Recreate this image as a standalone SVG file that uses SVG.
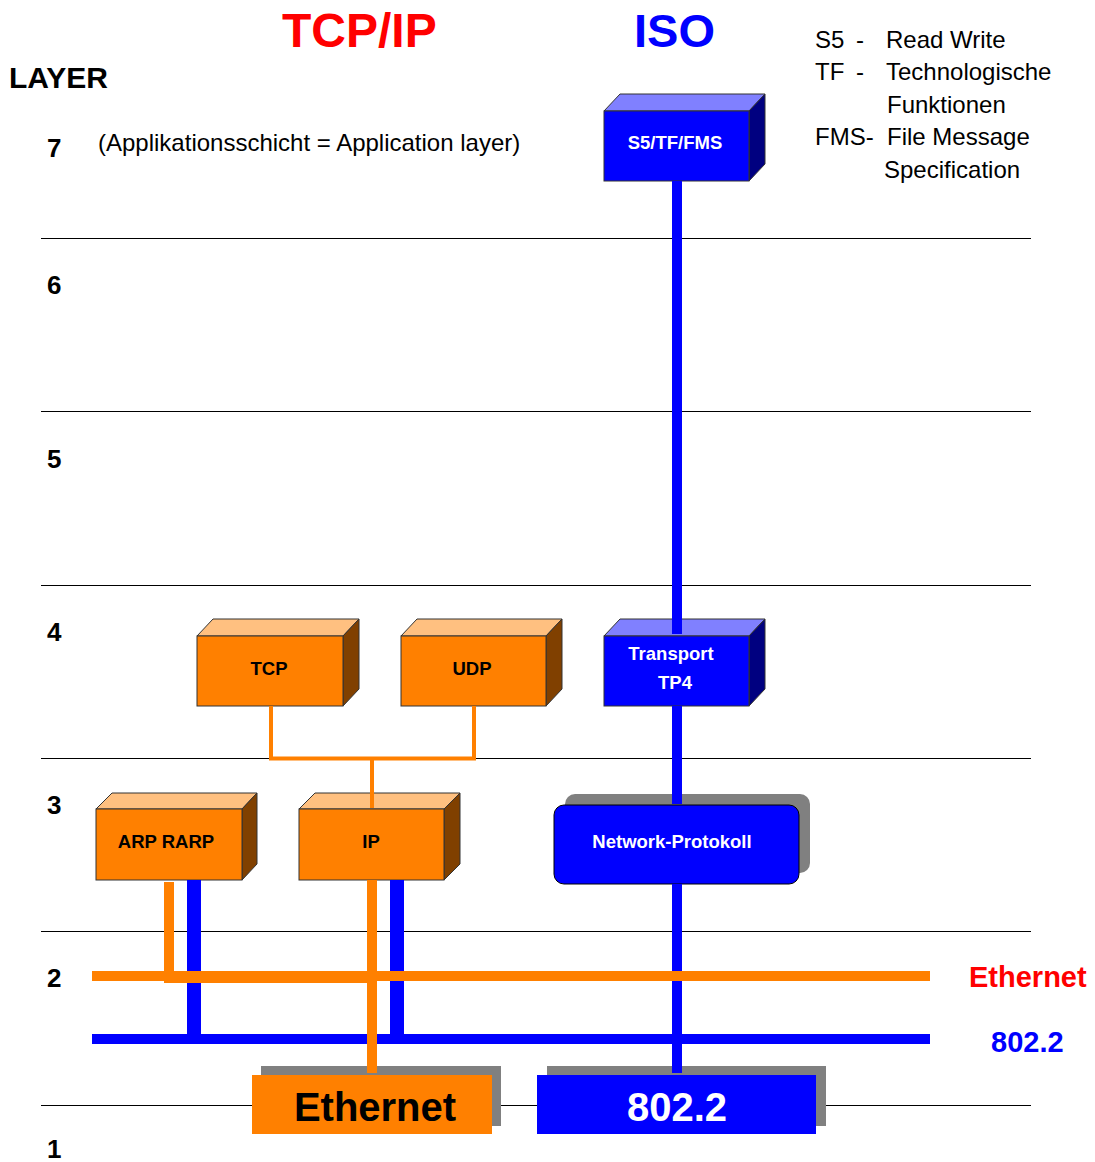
<svg xmlns="http://www.w3.org/2000/svg" width="1095" height="1162" viewBox="0 0 1095 1162">
<style>
text{font-family:"Liberation Sans",Arial,sans-serif}
.b{font-weight:bold}
.num{font-weight:bold;font-size:26px;fill:#000}
.leg{font-size:24px;fill:#000}
.lbl{font-weight:bold;font-size:18.5px;text-anchor:middle}
.of{fill:#FF8000;stroke:#333;stroke-width:1}
.ot{fill:#FFC080;stroke:#333;stroke-width:1}
.os{fill:#804000;stroke:#333;stroke-width:1}
.bf{fill:#0000FF;stroke:#333;stroke-width:1}
.bt{fill:#8080FF;stroke:#333;stroke-width:1}
.bs{fill:#000080;stroke:#333;stroke-width:1}
.grid{stroke:#000;stroke-width:1}
.shadow{fill:#808080}
</style>
<rect width="1095" height="1162" fill="#fff"/>
<g id="grid">
<line class="grid" x1="41" y1="238.5" x2="1031" y2="238.5"/>
<line class="grid" x1="41" y1="411.5" x2="1031" y2="411.5"/>
<line class="grid" x1="41" y1="585.5" x2="1031" y2="585.5"/>
<line class="grid" x1="41" y1="758.5" x2="1031" y2="758.5"/>
<line class="grid" x1="41" y1="931.5" x2="1031" y2="931.5"/>
<line class="grid" x1="41" y1="1105.5" x2="1031" y2="1105.5"/>
</g>
<g id="titles">
<text x="282" y="47" class="b" font-size="48" fill="#FF0000">TCP/IP</text>
<text x="634" y="47" class="b" font-size="47" fill="#0000FF">ISO</text>
<text x="9" y="88" class="b" font-size="30" fill="#000">LAYER</text>
<text x="47" y="157" class="num">7</text>
<text x="47" y="294" class="num">6</text>
<text x="47" y="468" class="num">5</text>
<text x="47" y="641" class="num">4</text>
<text x="47" y="814" class="num">3</text>
<text x="47" y="987" class="num">2</text>
<text x="47" y="1158" class="num">1</text>
<text x="98" y="151" class="leg">(Applikationsschicht = Application layer)</text>
<text x="815" y="48" class="leg">S5</text><text x="856" y="48" class="leg">-</text><text x="886" y="48" class="leg">Read Write</text>
<text x="815" y="80" class="leg">TF</text><text x="856" y="80" class="leg">-</text><text x="886" y="80" class="leg">Technologische</text>
<text x="887" y="113" class="leg">Funktionen</text>
<text x="815" y="145" class="leg">FMS-</text><text x="887" y="145" class="leg">File Message</text>
<text x="884" y="178" class="leg">Specification</text>
<text x="969" y="987" class="b" font-size="29" fill="#FF0000">Ethernet</text>
<text x="991" y="1052" class="b" font-size="29" fill="#0000FF">802.2</text>
</g>
<g id="node-s5">
<polygon class="bt" points="604,111 620,94 765,94 749,111"/>
<polygon class="bs" points="749,111 765,94 765,164 749,181"/>
<rect class="bf" x="604" y="111" width="145" height="70"/>
<text x="675" y="149" class="lbl" fill="#fff">S5/TF/FMS</text>
</g>
<g id="node-transport">
<polygon class="bt" points="604,636 620,619 765,619 749,636"/>
<polygon class="bs" points="749,636 765,619 765,689 749,706"/>
<rect class="bf" x="604" y="636" width="145" height="70"/>
<text x="671" y="660" class="lbl" fill="#fff">Transport</text>
<text x="675" y="689" class="lbl" fill="#fff">TP4</text>
</g>
<g id="node-tcp">
<polygon class="ot" points="197,636 213,619 359,619 343,636"/>
<polygon class="os" points="343,636 359,619 359,689 343,706"/>
<rect class="of" x="197" y="636" width="146" height="70"/>
<text x="269" y="675" class="lbl" fill="#000">TCP</text>
</g>
<g id="node-udp">
<polygon class="ot" points="401,636 417,619 562,619 546,636"/>
<polygon class="os" points="546,636 562,619 562,689 546,706"/>
<rect class="of" x="401" y="636" width="145" height="70"/>
<text x="472" y="675" class="lbl" fill="#000">UDP</text>
</g>
<g id="node-arp">
<polygon class="ot" points="96,809 112,793 257,793 242,809"/>
<polygon class="os" points="242,809 257,793 257,864 242,880"/>
<rect class="of" x="96" y="809" width="146" height="71"/>
<text x="166" y="848" class="lbl" fill="#000">ARP RARP</text>
</g>
<g id="node-ip">
<polygon class="ot" points="299,809 315,793 460,793 444,809"/>
<polygon class="os" points="444,809 460,793 460,864 444,880"/>
<rect class="of" x="299" y="809" width="145" height="71"/>
<text x="371" y="848" class="lbl" fill="#000">IP</text>
</g>
<g id="node-network">
<rect class="shadow" x="565" y="794" width="245" height="79" rx="10"/>
<rect x="554" y="805" width="245" height="79" rx="10" fill="#0000FF" stroke="#000" stroke-width="1"/>
<text x="672" y="848" class="lbl" fill="#fff">Network-Protokoll</text>
</g>
<g id="node-ethernet">
<rect class="shadow" x="261" y="1066" width="240" height="60"/>
<rect x="252" y="1075" width="240" height="59" fill="#FF8000"/>
<text x="375" y="1121" class="b" font-size="40" text-anchor="middle" fill="#000">Ethernet</text>
</g>
<g id="node-8022">
<rect class="shadow" x="547" y="1066" width="279" height="60"/>
<rect x="537" y="1075" width="279" height="59" fill="#0000FF"/>
<text x="677" y="1121" class="b" font-size="40" text-anchor="middle" fill="#fff">802.2</text>
</g>
<g id="connectors" fill="none" stroke-linecap="butt" stroke-linejoin="miter">
<line x1="677" y1="181" x2="677" y2="634" stroke="#0000FF" stroke-width="10"/>
<line x1="677" y1="706" x2="677" y2="804" stroke="#0000FF" stroke-width="10"/>
<line x1="677" y1="884" x2="677" y2="1073" stroke="#0000FF" stroke-width="10"/>
<polyline points="271,706 271,758.5 474,758.5 474,706" stroke="#FF8000" stroke-width="4"/>
<line x1="372" y1="758" x2="372" y2="808" stroke="#FF8000" stroke-width="4"/>
<line x1="194" y1="880" x2="194" y2="1039" stroke="#0000FF" stroke-width="14"/>
<line x1="397" y1="880" x2="397" y2="1039" stroke="#0000FF" stroke-width="14"/>
<line x1="92" y1="1039" x2="930" y2="1039" stroke="#0000FF" stroke-width="10"/>
<line x1="92" y1="976" x2="930" y2="976" stroke="#FF8000" stroke-width="10"/>
<polyline points="169,882 169,978 372,978" stroke="#FF8000" stroke-width="10"/>
<line x1="372" y1="880" x2="372" y2="1073" stroke="#FF8000" stroke-width="10"/>
</g>
</svg>
